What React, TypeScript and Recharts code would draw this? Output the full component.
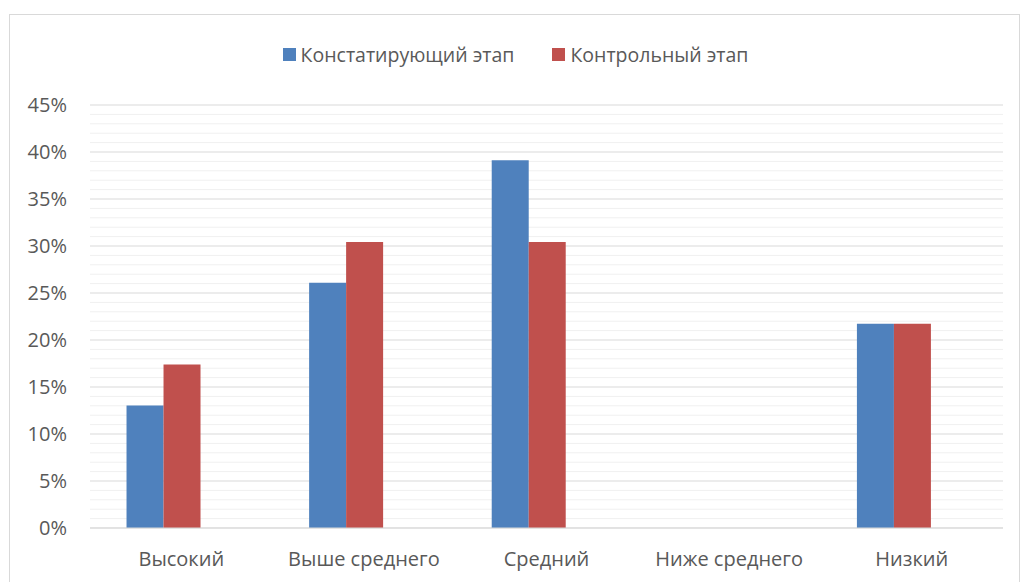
import { Bar, BarChart, CartesianGrid, Legend, XAxis, YAxis } from 'recharts';

const levels = ['Высокий', 'Выше среднего', 'Средний', 'Ниже среднего', 'Низкий'];
const ascertaining = [13.04, 26.09, 39.13, 0, 21.74];
const control = [17.39, 30.43, 30.43, 0, 21.74];
const yMax = 45;
const yTicks = [0, 5, 10, 15, 20, 25, 30, 35, 40, 45];
const minorTicks = [1, 2, 3, 4, 6, 7, 8, 9, 11, 12, 13, 14, 16, 17, 18, 19, 21, 22, 23, 24, 26, 27, 28, 29, 31, 32, 33, 34, 36, 37, 38, 39, 41, 42, 43, 44];

const data = levels.map((name, i) => ({
  name,
  first: ascertaining[i],
  second: control[i],
  empty: null,
}));

const FONT = '"Open Sans", sans-serif';
const TEXT = '#595959';
const BLUE = '#4f81bd';
const RED = '#c0504d';

// minor gridlines every 1%, placed from the y scale (or the plot offset as fallback)
function minorLines(props: any) {
  const { yAxis, offset } = props;
  const sc = yAxis && yAxis.scale;
  if (typeof sc === 'function') return minorTicks.map((v) => sc(v));
  return minorTicks.map((v) => offset.top + offset.height * (1 - v / yMax));
}

function LegendBox() {
  const items = [
    { label: 'Констатирующий этап', color: BLUE },
    { label: 'Контрольный этап', color: RED },
  ];
  return (
    <div style={{ display: 'flex', justifyContent: 'center', gap: 38, fontFamily: FONT, fontSize: 19.5, color: TEXT }}>
      {items.map((it) => (
        <div key={it.label} style={{ display: 'flex', alignItems: 'center' }}>
          <span style={{ width: 13, height: 13, background: it.color, marginRight: 5, display: 'inline-block' }} />
          <span>{it.label}</span>
        </div>
      ))}
    </div>
  );
}

export default function App() {
  return (
    <div style={{ position: 'absolute', left: 0, top: 0, width: 1027, height: 582, background: '#fff', overflow: 'hidden', fontFamily: FONT }}>
      <div style={{ position: 'absolute', left: 9, top: 14, width: 1011, height: 600, border: '1px solid #d9d9d9', boxSizing: 'border-box' }} />
      <BarChart
        width={1027}
        height={582}
        data={data}
        margin={{ top: 105, right: 24, bottom: 24, left: 0 }}
        barCategoryGap="20%"
        barGap={0}
      >
        <CartesianGrid vertical={false} stroke="#f0f0f0" horizontalCoordinatesGenerator={minorLines} />
        <CartesianGrid vertical={false} stroke="#d9d9d9" />
        <XAxis
          dataKey="name"
          axisLine={{ stroke: '#d9d9d9' }}
          tickLine={false}
          tickMargin={18}
          tick={{ fill: TEXT, fontSize: 20, fontFamily: FONT }}
        />
        <YAxis
          width={90}
          domain={[0, yMax]}
          ticks={yTicks}
          tickFormatter={(v) => `${v}%`}
          axisLine={false}
          tickLine={false}
          tickMargin={17}
          tick={{ fill: TEXT, fontSize: 20, fontFamily: FONT }}
        />
        <Legend
          verticalAlign="middle"
          align="center"
          wrapperStyle={{ top: 41, left: 14, width: 1003 }}
          content={() => <LegendBox />}
        />
        <Bar dataKey="first" name="Констатирующий этап" fill={BLUE} isAnimationActive={false} />
        <Bar dataKey="second" name="Контрольный этап" fill={RED} isAnimationActive={false} />
        <Bar dataKey="empty" legendType="none" fill="#9bbb59" isAnimationActive={false} />
      </BarChart>
    </div>
  );
}
